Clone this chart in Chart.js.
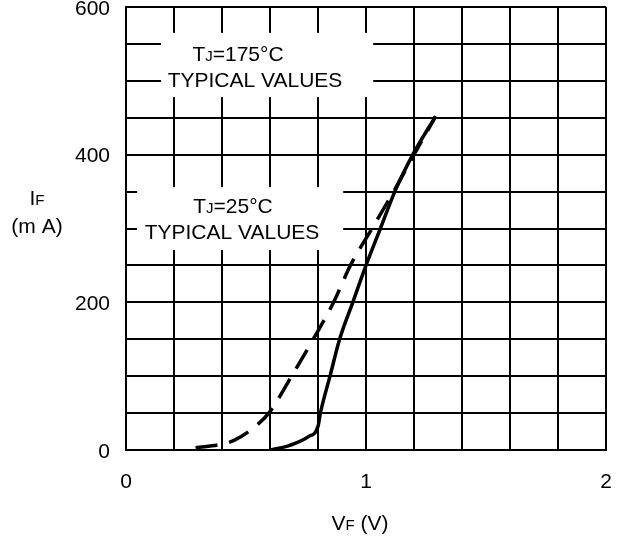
<!DOCTYPE html>
<html>
<head>
<meta charset="utf-8">
<script src="https://cdn.jsdelivr.net/npm/chart.js@4/dist/chart.umd.min.js"></script>
<style>
  html, body { margin: 0; padding: 0; background: #fff; }
  canvas { display: block; }
</style>
</head>
<body>
<canvas id="vf" width="623" height="540"></canvas>
<script>
// forward voltage (V) / forward current (mA)
const vf25 = [0.60, 0.68, 0.76, 0.80, 0.81, 0.85, 0.89, 0.945, 1.00, 1.06, 1.12, 1.195, 1.29];
const if25 = [0, 6, 18, 32, 50, 100, 150, 200, 250, 300, 350, 400, 452];
const vf175 = [0.29, 0.40, 0.45, 0.55, 0.60, 0.69, 0.78, 0.865, 0.935, 1.025, 1.115, 1.20, 1.29];
const if175 = [3, 8, 13, 35, 52, 100, 150, 200, 250, 300, 350, 400, 452];
const xTickLabels = [0, 1, 2];
const yTickLabels = [0, 200, 400, 600];

const FONT = "'Liberation Sans', Arial, sans-serif";
const ctx = document.getElementById('vf').getContext('2d');

const toPoints = (xs, ys) => xs.map((x, i) => ({ x: x, y: ys[i] }));
const pick = (list, v) => {
    const hit = list.find(t => Math.abs(t - v) < 1e-6);
    return hit === undefined ? '' : String(hit);
};
// fixed axis size, and no extra room for overhanging labels
const fixSize = (s, w, h) => {
    if (w !== null) s.width = w;
    if (h !== null) s.height = h;
    s.paddingTop = 0; s.paddingBottom = 0; s.paddingLeft = 0; s.paddingRight = 0;
};

// text with a small subscript letter, parts = [[text, size], ...]
const drawParts = (c, parts, cx, baseline) => {
    let w = 0;
    parts.forEach(p => { c.font = p[1] + 'px ' + FONT; w += c.measureText(p[0]).width; });
    let x = cx - w / 2;
    parts.forEach(p => {
        c.font = p[1] + 'px ' + FONT;
        c.fillText(p[0], x, baseline);
        x += c.measureText(p[0]).width;
    });
};

const notes = {
    id: 'notes',
    beforeDatasetsDraw(chart) {
        const c = chart.ctx;
        const sx = chart.scales.x, sy = chart.scales.y;
        const box = (v0, v1, i0, i1) => {
            const x0 = sx.getPixelForValue(v0), x1 = sx.getPixelForValue(v1);
            const y0 = sy.getPixelForValue(i0), y1 = sy.getPixelForValue(i1);
            c.fillStyle = '#fff';
            c.fillRect(x0, y0, x1 - x0, y1 - y0);
        };
        c.save();
        box(0.146, 1.03, 565, 478);
        box(0.046, 0.905, 356, 271);
        c.fillStyle = '#000';
        c.textAlign = 'left';
        c.textBaseline = 'alphabetic';
        drawParts(c, [['T', 21], ['J', 15], ['=175°C', 21]], 238, 61);
        drawParts(c, [['TYPICAL VALUES', 21]], 255, 87);
        drawParts(c, [['T', 21], ['J', 15], ['=25°C', 21]], 233, 213);
        drawParts(c, [['TYPICAL VALUES', 21]], 232, 239);
        c.restore();
    },
    afterDraw(chart) {
        const c = chart.ctx;
        c.save();
        c.fillStyle = '#000';
        c.textAlign = 'left';
        c.textBaseline = 'alphabetic';
        drawParts(c, [['I', 21], ['F', 15]], 37, 205);
        drawParts(c, [['(m A)', 21]], 37, 233);
        drawParts(c, [['V', 21], ['F', 15], [' (V)', 21]], 360, 530);
        c.restore();
    }
};

new Chart(ctx, {
    type: 'line',
    data: {
        datasets: [{
            label: 'TJ=25°C',
            data: toPoints(vf25, if25),
            borderColor: '#000',
            borderWidth: 3.5,
            cubicInterpolationMode: 'monotone',
            pointRadius: 0
        }, {
            label: 'TJ=175°C',
            data: toPoints(vf175, if175),
            borderColor: '#000',
            borderWidth: 3.5,
            borderDash: [22, 12],
            cubicInterpolationMode: 'monotone',
            pointRadius: 0
        }]
    },
    options: {
        responsive: false,
        devicePixelRatio: 1,
        animation: false,
        layout: { autoPadding: false, padding: { top: 7, right: 17, left: 0, bottom: 0 } },
        plugins: { legend: { display: false }, tooltip: { enabled: false } },
        scales: {
            x: {
                type: 'linear',
                min: 0,
                max: 2,
                afterFit: s => fixSize(s, null, 90),
                ticks: {
                    stepSize: 0.2,
                    autoSkip: false,
                    maxRotation: 0,
                    padding: 20,
                    color: '#000',
                    font: { family: FONT, size: 21 },
                    callback: v => pick(xTickLabels, v)
                },
                grid: { color: '#000', lineWidth: 2, drawTicks: false },
                border: { color: '#000', width: 2 }
            },
            y: {
                min: 0,
                max: 600,
                afterFit: s => fixSize(s, 126, null),
                ticks: {
                    stepSize: 50,
                    autoSkip: false,
                    padding: 16,
                    labelOffset: 2,
                    color: '#000',
                    font: { family: FONT, size: 21 },
                    callback: v => pick(yTickLabels, v)
                },
                grid: { color: '#000', lineWidth: 2, drawTicks: false },
                border: { color: '#000', width: 2 }
            }
        }
    },
    plugins: [notes]
});
</script>
</body>
</html>
